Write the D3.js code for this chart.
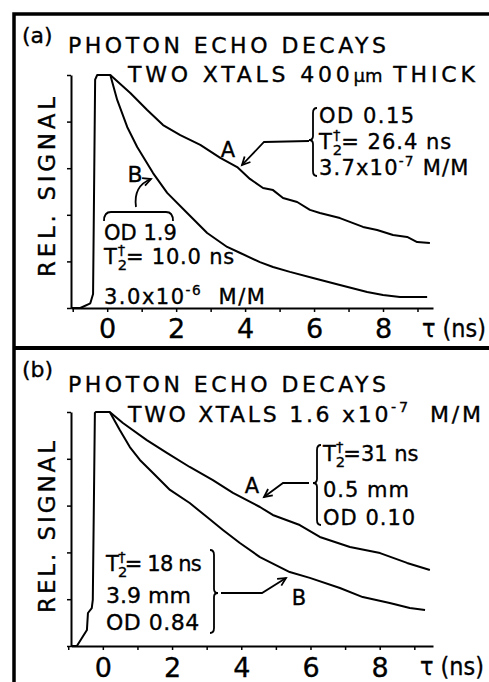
<!DOCTYPE html>
<html>
<head>
<meta charset="utf-8">
<script src="https://cdn.jsdelivr.net/npm/d3@7"></script>
<style>
  body { margin: 0; background: #fff; }
  text { font-family: "DejaVu Sans", sans-serif; fill: #000; stroke: #000; stroke-width: 0.35px; }
</style>
</head>
<body>
<script>
var W = 489, H = 682;

// tick values
var xTicks = [-1, 0, 1, 2, 3, 4, 5, 6, 7, 8, 9];
var xLabels = [0, 2, 4, 6, 8];
var yTicks = [0, 0.2, 0.4, 0.6, 0.8, 1.0];

// panel (a) traces, tau in ns, relative signal
var aRiseT = [-1.04, -0.78, -0.49, -0.41, -0.35, -0.29, 0.09];
var aRiseV = [0, 0, 0.02, 0.06, 0.98, 1.0, 1.0];
var aCurveAT = [0.09, 0.67, 1.16, 1.62, 2.12, 2.70, 3.28, 3.77, 4.14, 4.52, 4.81, 5.10, 5.51, 5.88, 6.17, 6.75, 7.42, 7.83, 8.29, 8.70, 8.99, 9.36];
var aCurveAV = [1.0, 0.923, 0.850, 0.785, 0.742, 0.700, 0.644, 0.605, 0.554, 0.515, 0.506, 0.472, 0.455, 0.421, 0.408, 0.386, 0.348, 0.335, 0.313, 0.305, 0.283, 0.279];
var aCurveBT = [0.09, 0.29, 0.58, 0.87, 1.33, 1.74, 2.32, 2.90, 3.48, 3.86, 4.43, 4.81, 5.30, 5.97, 6.75, 7.54, 8.00, 8.49, 9.28];
var aCurveBV = [1.0, 0.893, 0.777, 0.691, 0.579, 0.494, 0.408, 0.322, 0.262, 0.236, 0.197, 0.176, 0.155, 0.129, 0.099, 0.069, 0.056, 0.047, 0.047];

// panel (b) traces
var bRiseT = [-0.92, -0.75, -0.46, -0.43, -0.32, -0.29, -0.23, -0.20, 0.20];
var bRiseV = [0, 0, 0.068, 0.141, 0.162, 0.197, 0.996, 1.0, 1.0];
var bCurveAT = [0.20, 0.58, 1.27, 1.85, 2.51, 3.18, 3.76, 4.54, 4.91, 5.69, 6.27, 7.14, 8.01, 8.79, 9.45];
var bCurveAV = [1.0, 0.953, 0.880, 0.825, 0.765, 0.709, 0.654, 0.594, 0.560, 0.517, 0.466, 0.423, 0.397, 0.355, 0.325];
var bCurveBT = [0.20, 0.49, 0.78, 1.07, 1.45, 1.94, 2.51, 3.01, 3.47, 3.96, 4.54, 5.40, 5.98, 6.85, 7.51, 8.29, 8.87, 9.31];
var bCurveBV = [1.0, 0.923, 0.850, 0.795, 0.739, 0.667, 0.611, 0.551, 0.496, 0.440, 0.380, 0.316, 0.291, 0.248, 0.209, 0.184, 0.162, 0.154];

var svg = d3.select("body").append("svg")
  .attr("width", W)
  .attr("height", H);

svg.append("defs").append("marker")
  .attr("id", "arr")
  .attr("markerUnits", "userSpaceOnUse")
  .attr("markerWidth", 12).attr("markerHeight", 12)
  .attr("refX", 9).attr("refY", 5)
  .attr("orient", "auto")
  .append("path")
  .attr("d", "M1,1 L9,5 L1,9")
  .attr("fill", "none").attr("stroke", "#000").attr("stroke-width", 1.8);

// outer frame and divider
svg.append("path").attr("d", "M14,682 L14,14 L489,14")
  .attr("fill", "none").attr("stroke", "#000").attr("stroke-width", 3.5);
svg.append("line").attr("x1", 14).attr("x2", 489).attr("y1", 348).attr("y2", 348)
  .attr("stroke", "#000").attr("stroke-width", 4);

function zip(t, v) {
  return t.map(function(d, i) { return [d, v[i]]; });
}

function drawPanel(p) {
  var x = d3.scaleLinear().domain(p.xDomain).range([71, 433]);
  var y = d3.scaleLinear().domain([0, 1]).range([p.bottom, p.top]);
  var g = svg.append("g");

  g.append("g").attr("transform", "translate(71,0)")
    .call(d3.axisLeft(y).tickValues(yTicks).tickSize(4).tickSizeOuter(0).tickFormat(""));
  var xAxis = g.append("g").attr("transform", "translate(0," + p.bottom + ")")
    .call(d3.axisBottom(x).tickValues(xTicks).tickSize(4).tickSizeOuter(0).tickPadding(p.pad)
      .tickFormat(function(d) { return xLabels.indexOf(d) >= 0 ? d : ""; }));
  g.selectAll(".domain").attr("stroke-width", 2);
  g.selectAll(".tick line").attr("stroke-width", 1.5);
  xAxis.selectAll("text")
    .attr("font-family", "DejaVu Sans")
    .attr("font-size", 27);

  var line = d3.line()
    .x(function(d) { return x(d[0]); })
    .y(function(d) { return y(d[1]); });

  g.append("path").datum(zip(p.riseT, p.riseV).concat(zip(p.aT, p.aV).slice(1)))
    .attr("d", line).attr("fill", "none").attr("stroke", "#000").attr("stroke-width", 2)
    .attr("stroke-linejoin", "round");
  g.append("path").datum(zip(p.bT, p.bV))
    .attr("d", line).attr("fill", "none").attr("stroke", "#000").attr("stroke-width", 2)
    .attr("stroke-linejoin", "round");

  g.append("text").attr("x", p.tauX).attr("y", p.bottom + 29)
    .attr("font-size", 24).attr("textLength", 64).attr("lengthAdjust", "spacingAndGlyphs")
    .text("\u03c4 (ns)");

  g.append("text")
    .attr("transform", "translate(47," + p.labelY + ") rotate(-90)")
    .attr("text-anchor", "middle").attr("dy", "0.36em")
    .attr("font-size", 23).attr("textLength", p.labelLen).attr("lengthAdjust", "spacing")
    .text("REL. SIGNAL");

  g.append("text").attr("x", 22).attr("y", p.tagY).attr("font-size", 22).text(p.tag);
  return g;
}

function t2(g, x, y, fs, ls, rest) {
  var t = g.append("text").attr("x", x).attr("y", y).attr("font-size", fs).attr("letter-spacing", ls);
  t.append("tspan").text("T");
  t.append("tspan").attr("font-size", fs * 0.7).attr("dy", fs * 0.3).attr("letter-spacing", 0).text("2");
  t.append("tspan").attr("font-size", fs * 0.7).attr("dx", -fs * 0.44).attr("dy", -fs * 0.72).text("\u2020");
  t.append("tspan").attr("dy", fs * 0.42).text(rest);
}

function supText(g, x, y, fs, ls, base, exp, rest) {
  var t = g.append("text").attr("x", x).attr("y", y).attr("font-size", fs)
    .attr("letter-spacing", ls).style("white-space", "pre");
  t.append("tspan").text(base);
  t.append("tspan").attr("font-size", fs * 0.65).attr("dy", -fs * 0.45).text(exp);
  t.append("tspan").attr("dy", fs * 0.45).text(rest);
  return t;
}

function plain(g, x, y, fs, ls, s, anchor) {
  return g.append("text").attr("x", x).attr("y", y).attr("font-size", fs)
    .attr("letter-spacing", ls).attr("text-anchor", anchor || "start")
    .style("white-space", "pre").text(s);
}

function stroke(g, d, arrow) {
  var p = g.append("path").attr("d", d).attr("fill", "none")
    .attr("stroke", "#000").attr("stroke-width", 1.8);
  if (arrow) p.attr("marker-end", "url(#arr)");
}

function braceL(g, x, y0, y1, ym) {
  stroke(g, "M" + (x + 4) + "," + y0 + " Q" + x + "," + y0 + " " + x + "," + (y0 + 5) +
    " L" + x + "," + (ym - 4) + " Q" + x + "," + ym + " " + (x - 4) + "," + ym +
    " Q" + x + "," + ym + " " + x + "," + (ym + 4) +
    " L" + x + "," + (y1 - 5) + " Q" + x + "," + y1 + " " + (x + 4) + "," + y1);
}

function braceR(g, x, y0, y1, ym) {
  stroke(g, "M" + (x - 4) + "," + y0 + " Q" + x + "," + y0 + " " + x + "," + (y0 + 5) +
    " L" + x + "," + (ym - 4) + " Q" + x + "," + ym + " " + (x + 4) + "," + ym +
    " Q" + x + "," + ym + " " + x + "," + (ym + 4) +
    " L" + x + "," + (y1 - 5) + " Q" + x + "," + y1 + " " + (x - 4) + "," + y1);
}

// ---- panel (a)
var ga = drawPanel({
  xDomain: [-1.05, 9.45], top: 75, bottom: 308, pad: 7,
  riseT: aRiseT, riseV: aRiseV, aT: aCurveAT, aV: aCurveAV, bT: aCurveBT, bV: aCurveBV,
  tauX: 422, labelY: 187, labelLen: 180, tag: "(a)", tagY: 43
});
plain(ga, 68, 53, 22, 3.5, "PHOTON ECHO DECAYS");
var l2 = ga.append("text").attr("x", 128).attr("y", 82).attr("font-size", 22).attr("letter-spacing", 3.8);
l2.append("tspan").text("TWO XTALS 400");
l2.append("tspan").attr("font-size", 18).attr("letter-spacing", 0).text("\u00b5m");
l2.append("tspan").text(" THICK");

braceL(ga, 313, 108, 176, 140);
plain(ga, 319, 123, 21, 1.5, "OD 0.15");
t2(ga, 319, 149, 21, 1, "= 26.4 ns");
supText(ga, 319, 175, 21, 1.2, "3.7x10", "-7", " M/M");
stroke(ga, "M309,141 L264,142 L242,165", true);
plain(ga, 228, 157, 21, 0, "A", "middle");

plain(ga, 135, 182, 22, 0, "B", "middle");
stroke(ga, "M136,207 Q133,186 151,179", true);
stroke(ga, "M104,221 Q104,212 111,212 L166,212 Q173,212 173,221");
plain(ga, 104, 240, 21, 0, "OD 1.9");
t2(ga, 104, 264, 21, 0.8, "= 10.0 ns");
supText(ga, 104, 304, 21, 1.5, "3.0x10", "-6", "  M/M");

// ---- panel (b)
var gb = drawPanel({
  xDomain: [-0.92, 9.54], top: 412, bottom: 646, pad: 8,
  riseT: bRiseT, riseV: bRiseV, aT: bCurveAT, aV: bCurveAV, bT: bCurveBT, bV: bCurveBV,
  tauX: 420, labelY: 527, labelLen: 172, tag: "(b)", tagY: 377
});
plain(gb, 68, 392, 22, 3.5, "PHOTON ECHO DECAYS");
supText(gb, 128, 422, 22, 2.7, "TWO XTALS 1.6 x10", "-7", "  M/M");

braceL(gb, 317, 445, 525, 483);
t2(gb, 323, 461, 21, 0, "=31 ns");
plain(gb, 323, 497, 21, 1, "0.5 mm");
plain(gb, 323, 525, 21, 1, "OD 0.10");
stroke(gb, "M309,483 L283,483 L264,497", true);
plain(gb, 252, 493, 21, 0, "A", "middle");

t2(gb, 106, 571, 21, -0.8, "= 18 ns");
plain(gb, 106, 603, 22, 0, "3.9 mm");
plain(gb, 106, 630, 22, 0.5, "OD 0.84");
braceR(gb, 214, 550, 633, 593);
stroke(gb, "M221,593 L262,593 L286,578", true);
plain(gb, 299, 605, 21, 0, "B", "middle");
</script>
</body>
</html>
